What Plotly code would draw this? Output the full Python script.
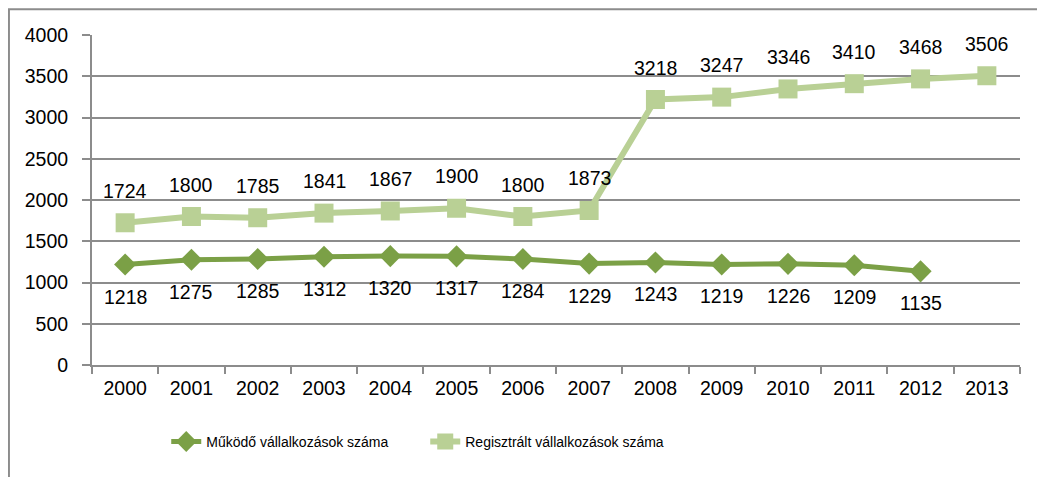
import plotly.graph_objects as go

years = [str(y) for y in range(2000, 2014)]
mukodo = [1218, 1275, 1285, 1312, 1320, 1317, 1284, 1229, 1243, 1219, 1226, 1209, 1135]
regisztralt = [1724, 1800, 1785, 1841, 1867, 1900, 1800, 1873, 3218, 3247, 3346, 3410, 3468, 3506]

dark_green = "#7BA046"
light_green = "#B9D095"
grid_color = "#8C8C8C"
font_family = "Liberation Sans, Arial, sans-serif"

fig = go.Figure()

fig.add_trace(
    go.Scatter(
        x=years[: len(mukodo)],
        y=mukodo,
        name="Működő vállalkozások száma",
        mode="lines+markers",
        line=dict(color=dark_green, width=5),
        marker=dict(symbol="diamond", size=17, color=dark_green),
    )
)

fig.add_trace(
    go.Scatter(
        x=years,
        y=regisztralt,
        name="Regisztrált vállalkozások száma",
        mode="lines+markers",
        line=dict(color=light_green, width=6),
        marker=dict(symbol="square", size=19, color=light_green),
    )
)

# data labels: below for Működő, above for Regisztrált
# (category index as x, so "2000" is not read as a position)
for i, v in enumerate(mukodo):
    fig.add_annotation(x=i, y=v, text=str(v), showarrow=False,
                       yanchor="middle", yshift=-32,
                       font=dict(size=19.5, color="black"))
for i, v in enumerate(regisztralt):
    fig.add_annotation(x=i, y=v, text=str(v), showarrow=False,
                       yanchor="middle", yshift=32,
                       font=dict(size=19.5, color="black"))

# outer chart border (Excel style), open on the right and bottom
fig.add_shape(
    type="path",
    xref="paper",
    yref="paper",
    path="M -0.0895,-0.4 L -0.0895,1.078 L 1.1,1.078",
    line=dict(color="#8C8C8C", width=2),
)

# the page adds an 8px body margin, so margins are shifted to compensate
fig.update_layout(
    width=1045,
    height=477,
    margin=dict(l=84, r=33, t=27, b=120, autoexpand=False),
    paper_bgcolor="white",
    plot_bgcolor="white",
    font=dict(family=font_family, size=19.5, color="black"),
    showlegend=True,
    legend=dict(
        orientation="h",
        x=0.08,
        xanchor="left",
        y=-0.233,
        yanchor="middle",
        font=dict(size=14),
        entrywidth=214,
        entrywidthmode="pixels",
        tracegroupgap=0,
    ),
)

fig.update_xaxes(
    type="category",
    range=[-0.5, 13.5],
    showgrid=False,
    showline=True,
    linecolor=grid_color,
    linewidth=2,
    ticks="outside",
    tickson="boundaries",
    ticklen=7,
    tickcolor=grid_color,
    tickwidth=2,
    ticklabelstandoff=5,
    tickfont=dict(size=19.5),
)

fig.update_yaxes(
    range=[0, 4000],
    dtick=500,
    showgrid=True,
    gridcolor=grid_color,
    gridwidth=2,
    showline=True,
    linecolor=grid_color,
    linewidth=2,
    ticks="outside",
    ticklen=8,
    tickcolor=grid_color,
    tickwidth=2,
    ticklabelstandoff=10,
    tickfont=dict(size=19.5),
    zeroline=False,
)

fig.write_html("out.html")
